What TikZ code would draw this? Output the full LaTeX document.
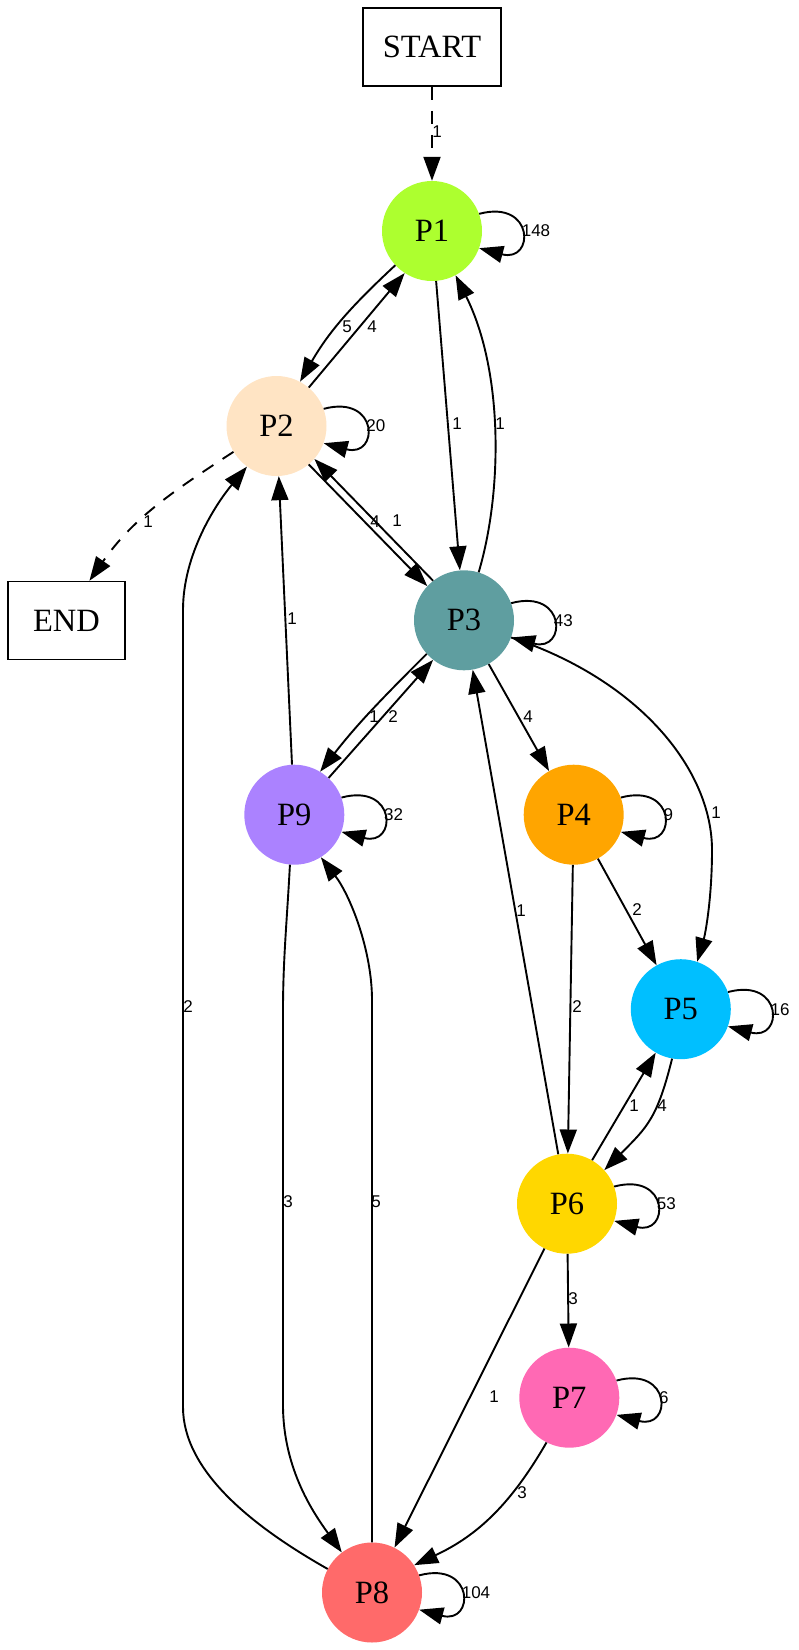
\documentclass[tikz,border=0pt]{standalone}
\usepackage{fontspec}
\setmainfont{Liberation Serif}
\newfontfamily\lblfont{Liberation Sans}
\usetikzlibrary{arrows.meta}
\definecolor{cP1}{HTML}{ADFF2F}
\definecolor{cP2}{HTML}{FFE4C4}
\definecolor{cP3}{HTML}{5F9EA0}
\definecolor{cP4}{HTML}{FFA500}
\definecolor{cP5}{HTML}{00BFFF}
\definecolor{cP6}{HTML}{FFD700}
\definecolor{cP7}{HTML}{FF69B4}
\definecolor{cP8}{HTML}{FF6A6A}
\definecolor{cP9}{HTML}{AB82FF}
\tikzset{
  pnode/.style={circle, minimum size=100pt, inner sep=0pt, font=\fontsize{32.5}{32.5}\selectfont},
  boxnode/.style={draw, line width=1.5pt, minimum height=78pt, inner sep=0pt, font=\fontsize{32.5}{32.5}\selectfont},
  edge/.style={line width=1.9pt, -{Triangle[length=24pt,width=17pt]}},
  dashededge/.style={edge, dash pattern=on 13pt off 11pt},
  lbl/.style={font=\lblfont\fontsize{17}{17}\selectfont, inner sep=0pt},
  looplbl/.style={lbl, pos=0.5, anchor=west},
  selfloop/.style={out=15, in=-15, looseness=4.3}
}
\begin{document}
\begin{tikzpicture}[x=1pt,y=1pt]
\useasboundingbox (0,0) rectangle (799,-1650);
% nodes
\node[boxnode, minimum width=138pt] (START) at (432,-47) {START};
\node[boxnode, minimum width=117pt] (END) at (66.5,-620.5) {END};
\node[pnode, fill=cP1] (P1) at (432,-231) {P1};
\node[pnode, fill=cP2] (P2) at (276.5,-426) {P2};
\node[pnode, fill=cP3] (P3) at (464,-620.3) {P3};
\node[pnode, fill=cP9] (P9) at (294.3,-814.7) {P9};
\node[pnode, fill=cP4] (P4) at (573.7,-814.7) {P4};
\node[pnode, fill=cP5] (P5) at (680.8,-1009.2) {P5};
\node[pnode, fill=cP6] (P6) at (567,-1203.7) {P6};
\node[pnode, fill=cP7] (P7) at (569.3,-1397.7) {P7};
\node[pnode, fill=cP8] (P8) at (372,-1592.5) {P8};
% start / end
\draw[dashededge] (START) -- (P1) node[lbl] (lS1) at (437,-132) {1};
\draw[dashededge] (P2.211) to[out=213, in=55] (END.60) node[lbl] (l2E) at (148,-522) {1};
% self loops
\draw[edge] (P1.20) to[selfloop] node[looplbl] (l11) {148} (P1.-20);
\draw[edge] (P2.20) to[selfloop] node[looplbl] (l22) {20} (P2.-20);
\draw[edge] (P3.20) to[selfloop] node[looplbl] (l33) {43} (P3.-20);
\draw[edge] (P9.20) to[selfloop] node[looplbl] (l99) {32} (P9.-20);
\draw[edge] (P4.20) to[selfloop] node[looplbl] (l44) {9} (P4.-20);
\draw[edge] (P5.20) to[selfloop] node[looplbl] (l55) {16} (P5.-20);
\draw[edge] (P6.20) to[selfloop] node[looplbl] (l66) {53} (P6.-20);
\draw[edge] (P7.20) to[selfloop] node[looplbl] (l77) {6} (P7.-20);
\draw[edge] (P8.20) to[selfloop] node[looplbl] (l88) {104} (P8.-20);
% P1 - P2
\draw[edge] (P1.223) to[out=223, in=60] (P2.62) node[lbl] (l12) at (347,-327) {5};
\draw[edge] (P2.50) -- (P1.237) node[lbl] (l21) at (372,-327) {4};
% P2 - P3
\draw[edge] (P2.310) -- (P3.137) node[lbl] (l23) at (375,-522) {4};
\draw[edge] (P3.128) -- (P2.319) node[lbl] (l32) at (397,-521) {1};
% P1 - P3
\draw[edge] (P1) -- (P3) node[lbl] (l13) at (457,-424) {1};
\draw[edge] (P3.73) .. controls (503,-490) and (503,-370) .. (P1.298) node[lbl] (l31) at (500,-424) {1};
% P3 - P9
\draw[edge] (P3.222) to[out=225, in=52] (P9.59) node[lbl] (l39) at (374,-717) {1};
\draw[edge] (P9.47) -- (P3.232) node[lbl] (l93) at (393,-717) {2};
% P3 - P4, P3 - P5
\draw[edge] (P3) -- (P4) node[lbl] (l34) at (528,-717) {4};
\draw[edge] (P3.-20) .. controls (640,-680) and (712,-770) .. (712,-850)
  .. controls (712,-900) and (705,-935) .. (P5.71) node[lbl] (l35) at (716,-813) {1};
% P9 - P2
\draw[edge] (P9) -- (P2) node[lbl] (l92) at (292,-619) {1};
% P4
\draw[edge] (P4) -- (P5) node[lbl] (l45) at (637,-910) {2};
\draw[edge] (P4) -- (P6) node[lbl] (l46) at (577,-1007) {2};
% P6
\draw[edge] (P6) -- (P3) node[lbl] (l63) at (521,-911) {1};
\draw[edge] (P6.60) -- (P5.240) node[lbl] (l65) at (634,-1106) {1};
\draw[edge] (P5.260) to[out=256, in=45, looseness=1.2] (P6.42) node[lbl] (l56) at (662,-1106) {4};
\draw[edge] (P6) -- (P7) node[lbl] (l67) at (573,-1299) {3};
\draw[edge] (P6) -- (P8) node[lbl] (l68) at (494,-1397) {1};
% P7 - P8
\draw[edge] (P7.243) to[out=240, in=25] (P8.33) node[lbl] (l78) at (522,-1493) {3};
% P8 - P2
\draw[edge] (P8.152) .. controls (250,-1525) and (183,-1470) .. (183,-1407)
  -- (183,-610) .. controls (183,-555) and (215,-505) .. (P2.234)
  node[lbl] (l82) at (188,-1007) {2};
% P9 - P8
\draw[edge] (P9.265) .. controls (287,-920) and (283,-960) .. (283,-1010)
  -- (283,-1405) .. controls (283,-1470) and (315,-1515) .. (P8.127)
  node[lbl] (l98) at (288,-1202) {3};
% P8 - P9
\draw[edge] (P8.90) -- (372,-1000) .. controls (372,-950) and (350,-895) .. (P9.302)
  node[lbl] (l89) at (376,-1202) {5};
\end{tikzpicture}
\end{document}
